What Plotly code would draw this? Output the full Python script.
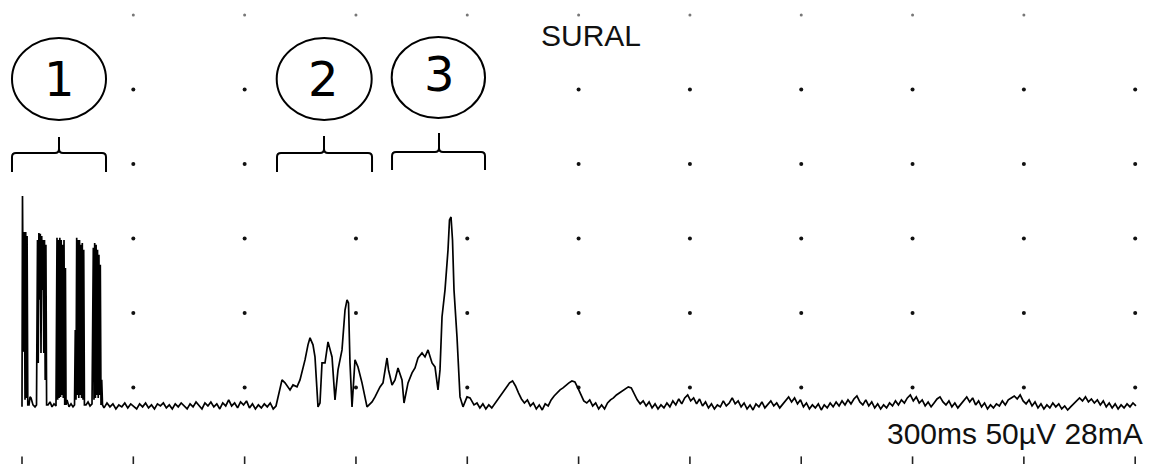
import numpy as np
import plotly.graph_objects as go

# ---------------- data (time in ms, amplitude in µV above the trace baseline) -------------
# 1) stimulus artefact bursts
burst_t = [0, 1.3, 4.0, 6.2, 8.1, 10.0, 11.9, 13.7, 15.6, 18.9, 21.6, 24.3, 29.6, 35.0, 39.1,
           41.8, 43.7, 45.5, 47.4, 49.3, 51.2, 53.1, 55.0, 56.9, 58.8, 60.6, 62.5, 64.4, 66.3,
           70.1, 75.5, 80.9, 86.2, 91.6,
           94.3, 96.2, 98.1, 100.0, 101.9, 103.8, 105.6, 107.5, 109.4, 111.3, 113.2, 115.1, 117.0, 118.6,
           121.3, 126.7, 132.1, 137.4, 141.5,
           143.6, 145.5, 147.4, 149.3, 151.2, 153.1, 155.0, 156.8, 158.7, 160.6, 162.5, 164.4, 166.3, 168.2,
           172.5, 177.9, 183.3, 188.7,
           192.2, 194.0, 195.9, 197.8, 199.7, 201.6, 203.5, 205.4, 207.3, 209.1, 211.0, 212.9, 214.8, 217.0]
burst_uv = [-1.3, 140.2, 35.6, 116.1, 3.4, 116.1, 4.7, 113.4, 0, 0, 5.4, 4.7, 0, -1.3, 0,
            110.7, 28.2, 115.4, 70.5, 114.8, 34.9, 113.4, 77.2, 110.7, 34.9, 110.7, 16.8, 107.4, 0,
            0, 2.0, -1.3, 0.7, -0.7,
            112.1, 3.4, 110.7, 4.7, 112.1, 5.4, 110.7, 6.7, 107.4, 4.7, 110.7, 0, 91.9, 0,
            3.4, -1.3, 0.7, -1.3, 0,
            50.3, 3.4, 112.1, 6.7, 110.7, 4.7, 110.7, 6.7, 107.4, 4.7, 108.7, 3.4, 104.1, 0,
            0, 2.0, -0.7, 0.7,
            105.4, 3.4, 108.7, 4.7, 107.4, 6.7, 104.1, 4.7, 100.7, 6.7, 94.0, 0, 16.8, 0]

# 2) quiet baseline, sampled every 8 ms from 221 ms
quiet1_start = 221.0
quiet1_uv = [-2.0, 1.3, -1.3, 0.7, -2.7, 0, -1.3, 1.3, -2.0, 0.7, -0.7, -2.7, 0.7, -1.3, 1.3,
             -2.0, 0, -2.7, 0.7, -0.7, 1.3, -2.0, 0, -2.7, 0.7, -1.3, 1.3, -0.7, -2.7, 0.7,
             -1.3, 2.0, -0.7, -2.7, 1.3, -0.7, 2.0, -1.3, 0.7, -2.7, 1.3, -0.7, 3.4, -0.7, 1.3,
             -2.0, 2.0, 0, 2.7, -2.0, 0.7, -2.7, 0, -2.0, 0.7, -1.3, 1.3, -2.7]

# 3) responses (regions 2 and 3)
act_t = [684.5, 689.9, 700.7, 708.8, 714.2, 722.3, 730.3, 741.1, 749.2, 762.7,
         770.7, 776.2, 784.2, 789.6, 797.7, 803.1, 808.5, 816.6, 824.7, 835.5,
         843.5, 851.6, 862.4, 870.5, 875.9, 879.9, 883.9, 889.4, 897.4, 905.5,
         916.3, 929.8, 943.3, 951.4, 964.8, 972.9, 983.7, 987.7, 997.2, 1005.2,
         1013.3, 1024.1, 1029.5, 1040.3, 1051.1, 1059.1, 1067.2, 1078.0, 1086.1, 1094.2,
         1105.0, 1113.0, 1121.1, 1126.5, 1131.9, 1140.0, 1148.1, 1152.1, 1156.2, 1160.2,
         1164.2, 1172.3, 1180.4, 1188.5, 1199.3, 1207.4, 1218.1, 1226.2]
act_uv = [-0.7, 5.4, 16.8, 14.8, 12.7, 10.1, 13.4, 12.1, 16.8, 30.2,
          40.3, 45.0, 40.3, 32.2, -1.3, 1.3, 28.2, 28.2, 42.3, 32.2,
          3.4, 23.5, 36.9, 63.7, 70.5, 68.4, 28.2, -1.3, 30.2, 25.5,
          14.8, -1.3, 2.0, 5.4, 12.1, 14.8, 31.5, 23.5, 13.4, 16.8,
          24.8, 16.8, 1.3, 14.8, 21.5, 24.8, 31.5, 34.9, 32.2, 36.9,
          28.2, 25.5, 10.1, 23.5, 59.0, 77.2, 104.1, 124.1, 126.1, 110.7,
          77.2, 45.6, 5.4, -1.3, 5.4, 4.7, 0, 1.3]

# 4) late baseline, sampled every 8 ms from 1234 ms
quiet2_start = 1234.0
quiet2_uv = [-2.0, 0.7, -2.7, 0, -2.0, 0.7, 3.4, 6.0, 8.7, 11.4, 14.8, 16.1, 12.7, 8.1, 4.0,
             1.3, 3.4, -0.7, 1.3, -2.7, 0, -3.4, 0.7, -0.7, 3.4, 6.0, 8.1, 10.1, 11.4, 13.4,
             14.8, 16.1, 15.4, 11.4, 6.7, 2.7, 1.3, 3.4, -0.7, 1.3, -2.7, 0, -2.7, 1.3, 3.4,
             4.7, 6.7, 8.1, 9.4, 10.7, 12.1, 11.4, 7.4, 3.4, 0.7, 2.7, -0.7, 2.0, -2.0, 0.7,
             -2.7, 0, -2.0, 1.3, -1.3, 2.7, 0, 4.0, 0.7, 4.7, 6.7, 2.7, 4.7, 0.7, 4.0,
             -0.7, 2.0, -2.0, 0.7, -2.7, 0, -1.3, 2.7, -0.7, 1.3, 4.7, 0.7, 2.7, -1.3, 1.3,
             -2.7, 0, -3.4, 0.7, -1.3, 2.0, -2.0, 0.7, 2.7, -0.7, 1.3, -2.0, 0.7, 3.4, 5.4,
             2.0, 4.7, 0.7, 3.4, -1.3, 1.3, -2.7, 0, -2.0, 0.7, -3.4, 0, -2.0, 1.3, -1.3,
             2.0, -0.7, 2.7, 0, 3.4, 0.7, 4.0, 6.0, 2.0, 0, 3.4, -0.7, 2.0, -2.0, 0.7,
             -2.7, 0, -2.0, 1.3, -0.7, 2.7, 0, 3.4, 1.3, 4.7, 6.7, 2.7, 5.4, 1.3, 3.4,
             -0.7, 2.0, -1.3, 1.3, 4.0, 5.4, 2.0, 0, 2.7, -1.3, 1.3, -2.0, 0.7, 3.4, 5.4,
             2.0, 4.7, 0, 2.7, -1.3, 1.3, -2.7, 0, -2.0, 0.7, -0.7, 2.7, 0, 3.4, 4.7,
             6.0, 4.0, 6.7, 2.7, 0.7, 3.4, -0.7, 2.0, -2.0, 0.7, -2.7, 0, -2.0, 1.3, -1.3,
             0.7, -2.7, -0.7, -3.4, -1.3, 0.7, 2.7, 4.7, 2.7, 5.4, 2.0, 4.0, 1.3, 3.4, 0,
             2.7, -1.3, 1.3, -2.0, 0.7, -2.7, 0, -2.0, 0.7, -1.3, 1.3, -0.7]

SAMPLE_MS = 8.0
BASELINE_UV = 38.3          # trace baseline sits this far above the lowest graticule row

labels_top = "SURAL"
labels_scale = "300ms 50µV 28mA"
region_labels = ["1", "2", "3"]

# ---------------- assemble trace -------------
n_b = min(len(burst_t), len(burst_uv))
n_a = min(len(act_t), len(act_uv))
q1_t = [quiet1_start + SAMPLE_MS * i for i in range(len(quiet1_uv))]
q2_t = [quiet2_start + SAMPLE_MS * i for i in range(len(quiet2_uv))]
t_all = list(burst_t[:n_b]) + q1_t + list(act_t[:n_a]) + q2_t
uv_all = list(burst_uv[:n_b]) + quiet1_uv + list(act_uv[:n_a]) + quiet2_uv
y_all = np.array(uv_all) + BASELINE_UV

X_RANGE = [-59.3, 3048.0]
Y_RANGE = [-1.34, 310.0]

# region markers (circles + braces) in data coordinates
circles = [(-27.0, 226.4, 229.5, 284.5), (686.4, 942.4, 229.5, 284.5), (996.3, 1247.8, 230.8, 285.2)]
label_pos = [(99.7, 257.3), (812.5, 256.7), (1125.2, 260.3)]
braces = [(-27.0, 226.4, 99.7, 194.6, 207.3, 218.1),
          (687.2, 943.3, 813.9, 194.6, 207.3, 218.7),
          (997.2, 1247.8, 1123.8, 195.9, 208.0, 220.8)]

fig = go.Figure()

# graticule
gx = [300 * k for k in range(11)]
gy = [50 * k for k in range(7)]


def hidden(x, y):
    for (x0, x1, y0, y1) in circles:
        if x0 - 5 <= x <= x1 + 5 and y0 - 3 <= y <= y1 + 3:
            return True
    for (xl, xr, xc, yb, yh, yt) in braces:
        if xl - 5 <= x <= xr + 5 and yb - 4 <= y <= yt + 3:
            return True
    return False


dot_x, dot_y = [], []
for y in gy[1:6]:
    for x in gx[1:]:
        if not hidden(x, y):
            dot_x.append(x)
            dot_y.append(y)
fig.add_trace(go.Scatter(x=dot_x, y=dot_y, mode="markers",
                         marker=dict(size=4, color="#111", line=dict(width=0)),
                         hoverinfo="skip"))
fig.add_trace(go.Scatter(x=gx[1:10], y=[gy[6]] * 9, mode="markers",
                         marker=dict(size=3, color="#777", line=dict(width=0)),
                         hoverinfo="skip"))
fig.add_trace(go.Scatter(x=gx, y=[gy[0]] * len(gx), mode="markers",
                         marker=dict(symbol="line-ns", size=8, line=dict(width=1.6, color="#222")),
                         hoverinfo="skip"))

# EMG trace
fig.add_trace(go.Scatter(x=t_all, y=y_all, mode="lines",
                         line=dict(color="black", width=1.7), hoverinfo="skip"))

shapes = []
for (x0, x1, y0, y1) in circles:
    shapes.append(dict(type="circle", xref="x", yref="y", x0=x0, x1=x1, y0=y0, y1=y1,
                       line=dict(color="black", width=2), fillcolor="rgba(0,0,0,0)"))
rx, ry = 10.8, 2.7
for (xl, xr, xc, yb, yh, yt) in braces:
    p = (f"M {xl},{yb} L {xl},{yh-ry} Q {xl},{yh} {xl+rx},{yh} L {xc-rx},{yh} "
         f"Q {xc},{yh} {xc},{yh+ry} L {xc},{yt} M {xc},{yh+ry} Q {xc},{yh} {xc+rx},{yh} "
         f"L {xr-rx},{yh} Q {xr},{yh} {xr},{yh-ry} L {xr},{yb}")
    shapes.append(dict(type="path", xref="x", yref="y", path=p,
                       line=dict(color="black", width=2)))

annotations = []
for lab, (x, y) in zip(region_labels, label_pos):
    annotations.append(dict(x=x, y=y, xref="x", yref="y", text=lab, showarrow=False,
                            xanchor="center", yanchor="middle",
                            font=dict(family="DejaVu Sans", size=48, color="black")))
annotations.append(dict(x=1533.5, y=286.5, xref="x", yref="y", text=labels_top, showarrow=False,
                        xanchor="center", yanchor="middle",
                        font=dict(family="Liberation Sans", size=30, color="#111")))
annotations.append(dict(x=3026.5, y=18.8, xref="x", yref="y", text=labels_scale, showarrow=False,
                        xanchor="right", yanchor="middle",
                        font=dict(family="Liberation Sans", size=30, color="#111")))

fig.update_layout(
    width=1153, height=464,
    margin=dict(l=0, r=0, t=0, b=0, pad=0),
    paper_bgcolor="white", plot_bgcolor="white",
    showlegend=False,
    xaxis=dict(visible=False, range=X_RANGE, fixedrange=True),
    yaxis=dict(visible=False, range=Y_RANGE, fixedrange=True),
    shapes=shapes, annotations=annotations,
)

fig.write_html("out.html", config={"displayModeBar": False},
               post_script="document.body.style.margin='0px';document.body.style.overflow='hidden';")
